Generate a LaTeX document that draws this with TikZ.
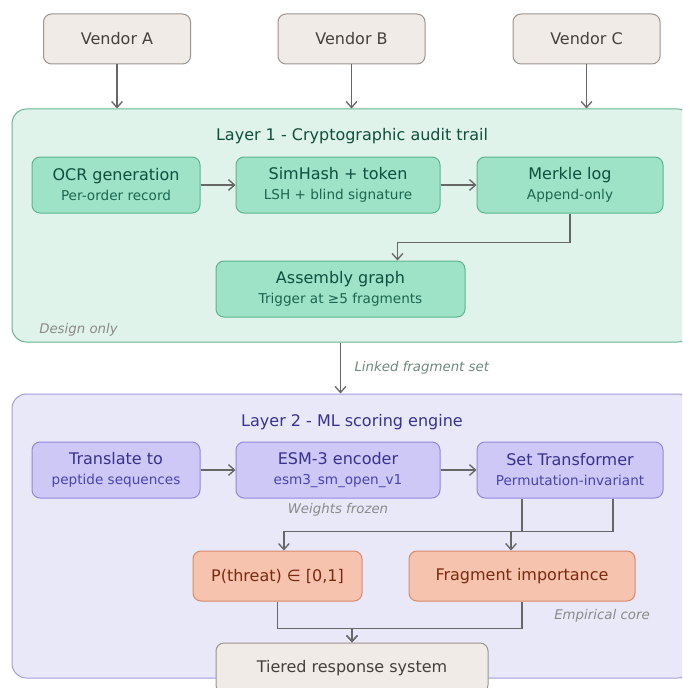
\documentclass[tikz,border=0pt]{standalone}
\usepackage{fontspec}
\setmainfont{DejaVu Sans}
\usetikzlibrary{arrows.meta}

\definecolor{neutralfill}{HTML}{F0EBE6}
\definecolor{neutraldraw}{HTML}{9C948E}
\definecolor{neutraltext}{HTML}{45403C}
\definecolor{layeronefill}{HTML}{E0F3EA}
\definecolor{layeronedraw}{HTML}{66B592}
\definecolor{greenfill}{HTML}{9EE2C8}
\definecolor{greendraw}{HTML}{5DB58F}
\definecolor{greentext}{HTML}{0E4F3E}
\definecolor{greensub}{HTML}{1B6650}
\definecolor{layertwofill}{HTML}{E9E8F8}
\definecolor{layertwodraw}{HTML}{A29DE0}
\definecolor{purplefill}{HTML}{CDC8F5}
\definecolor{purpledraw}{HTML}{9189DD}
\definecolor{purpletext}{HTML}{38318F}
\definecolor{purplesub}{HTML}{4A43B0}
\definecolor{orangefill}{HTML}{F6C3AE}
\definecolor{orangedraw}{HTML}{D9896C}
\definecolor{orangetext}{HTML}{7A2A10}
\definecolor{linkgray}{HTML}{666666}
\definecolor{notegray}{HTML}{8A8A8A}
\definecolor{notegreen}{HTML}{6E8A7A}

\tikzset{
  base/.style={rounded corners=6pt, line width=0.75pt, inner sep=0pt, align=center},
  vendorbox/.style={base, fill=neutralfill, draw=neutraldraw, text=neutraltext,
    minimum width=110.25pt, minimum height=37.5pt, font=\fontsize{12}{14}\selectfont},
  greenbox/.style={base, fill=greenfill, draw=greendraw, text=greentext,
    minimum height=42pt, font=\fontsize{12}{15}\selectfont},
  purplebox/.style={base, fill=purplefill, draw=purpledraw, text=purpletext,
    minimum height=42pt, font=\fontsize{12}{15}\selectfont},
  orangebox/.style={base, fill=orangefill, draw=orangedraw, text=orangetext,
    minimum height=37.5pt, font=\fontsize{12}{14}\selectfont},
  layerbox/.style={rounded corners=11pt, line width=0.75pt, inner sep=0pt, minimum width=510pt},
  flow/.style={draw=linkgray, line width=1.1pt, -{Straight Barb[length=4.5pt,width=8pt,line width=1pt]}},
  note/.style={font=\fontsize{10}{12}\selectfont\itshape, text=notegray, inner sep=0pt},
}

\newcommand{\subline}[2]{{\color{#1}\fontsize{10.2}{15}\selectfont #2}}

\begin{document}
\begin{tikzpicture}[x=0.75pt, y=-0.75pt]
  \useasboundingbox (0,0) rectangle (682,688);
  \clip (0,0) rectangle (682,688);

  % layer containers
  \node[layerbox, fill=layeronefill, draw=layeronedraw, minimum height=174.75pt] (L1) at (352,225.5) {};
  \node[layerbox, fill=layertwofill, draw=layertwodraw, minimum height=213pt] (L2) at (352,536) {};

  % sources
  \node[vendorbox] (vA) at (117,39) {Vendor A};
  \node[vendorbox] (vB) at (351.5,39) {Vendor B};
  \node[vendorbox] (vC) at (586.5,39) {Vendor C};

  % layer 1
  \node[font=\fontsize{12}{14}\selectfont, text=greentext] (t1) at (352,136) {Layer 1 - Cryptographic audit trail};
  \node[greenbox, minimum width=126pt] (ocr) at (116,185) {OCR generation\\\subline{greensub}{Per-order record}};
  \node[greenbox, minimum width=153pt] (sim) at (338,185) {SimHash + token\\\subline{greensub}{LSH + blind signature}};
  \node[greenbox, minimum width=139.5pt] (mer) at (570,185) {Merkle log\\\subline{greensub}{Append-only}};
  \node[greenbox, minimum width=186.75pt] (asm) at (340.5,289) {Assembly graph\\\subline{greensub}{Trigger at ≥5 fragments}};
  \node[note, anchor=west] (n1) at (39,330) {Design only};

  % layer 2
  \node[font=\fontsize{12}{14}\selectfont, text=purpletext] (t2) at (352,422) {Layer 2 - ML scoring engine};
  \node[purplebox, minimum width=126pt] (tr) at (116,470) {Translate to\\\subline{purplesub}{peptide sequences}};
  \node[purplebox, minimum width=153pt] (esm) at (338,470) {ESM-3 encoder\\\subline{purplesub}{esm3\_sm\_open\_v1}};
  \node[purplebox, minimum width=139.5pt] (st) at (570,470) {Set Transformer\\\subline{purplesub}{Permutation-invariant}};
  \node[note] (n2) at (338,510) {Weights frozen};
  \node[orangebox, minimum width=126.75pt] (pt) at (277.5,576) {P(threat) ∈ [0,1]};
  \node[orangebox, minimum width=169.5pt] (fi) at (522,576) {Fragment importance};
  \node[note] (n3) at (602,616) {Empirical core};
  \node[vendorbox, minimum width=204pt] (tier) at (352,668) {Tiered response system};

  % connectors
  \draw[flow] (vA.south) -- (vA.south |- L1.north);
  \draw[flow] (vB.south) -- (vB.south |- L1.north);
  \draw[flow] (vC.south) -- (vC.south |- L1.north);
  \draw[flow] (ocr.east) -- (sim.west);
  \draw[flow] (sim.east) -- (mer.west);
  \draw[flow] (mer.south) -- ++(0,29) -| ([xshift=42.75pt]asm.north);
  \draw[flow] (asm.south |- L1.south) -- node[right=10pt, note, text=notegreen] (lk) {Linked fragment set} (asm.south |- L2.north);
  \draw[flow] (tr.east) -- (esm.west);
  \draw[flow] (esm.east) -- (st.west);
  \draw[flow] ([xshift=-36pt]st.south) -- ++(0,33) -| ([xshift=4.8pt]pt.north);
  \draw[flow] ([xshift=32.25pt]st.south) -- ++(0,33) -| ([xshift=-8.25pt]fi.north);
  \draw[flow] (pt.south) -- ++(0,27) -| (tier.north);
  \draw[flow] (fi.south) -- ++(0,27) -| (tier.north);
\end{tikzpicture}
\end{document}
